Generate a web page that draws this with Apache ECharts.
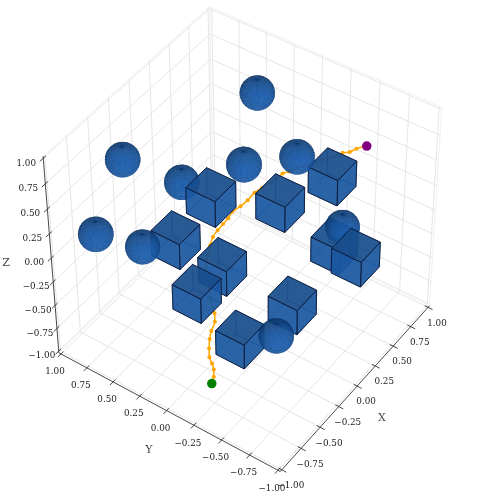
<!DOCTYPE html>
<html>
<head>
<meta charset="utf-8">
<style>
  html, body { margin: 0; background: #fff; }
  #main { width: 479px; height: 500px; }
</style>
</head>
<body>
<div id="main"></div>
<script src="https://cdn.jsdelivr.net/npm/echarts@6/dist/echarts.min.js"></script>
<script>
  // tick values and labels, same on all three axes
  var tickValues = [-1, -0.75, -0.5, -0.25, 0, 0.25, 0.5, 0.75, 1];
  var tickLabels = ['−1.00', '−0.75', '−0.50', '−0.25', '0.00', '0.25', '0.50', '0.75', '1.00'];

  // spheres (centres)
  var sphereX = [0.61, -0.37, -0.15, 0.09, 0.47, 0.74, -0.79, -0.46, -0.25];
  var sphereY = [0.30, 0.82, 0.45, 0.06, -0.15, -0.39, 0.77, 0.60, -0.46];
  var sphereZ = [0.8, 0.6, 0.4, 0.6, 0.5, -0.3, 0.2, -0.1, -0.6];
  var sphereRadius = 0.13;

  // cubes (centres)
  var cubeX = [-0.16, 0.34, 0.80, -0.26, -0.13, -0.39, 0.08, -0.28, 0.79, 0.52];
  var cubeY = [0.18, -0.09, -0.25, 0.44, 0.11, 0.16, -0.38, -0.15, -0.29, -0.65];
  var cubeZ = [0.4, 0.1, 0.1, -0.1, -0.3, -0.4, -0.6, -0.8, -0.6, -0.3];
  var cubeHalf = 0.13;

  // path from the green start to the purple end
  var pathX = [-0.84, -0.80, -0.77, -0.75, -0.74, -0.70, -0.65, -0.60, -0.54, -0.50, -0.44, -0.35, -0.25, -0.16, -0.10, -0.05, 0.00, 0.04, 0.08, 0.12, 0.17, 0.22, 0.28, 0.32, 0.36, 0.40, 0.43, 0.44, 0.47, 0.51, 0.57, 0.61, 0.65, 0.65, 0.66, 0.67];
  var pathY = [-0.29, -0.28, -0.26, -0.23, -0.20, -0.17, -0.14, -0.12, -0.11, -0.08, 0.00, 0.08, 0.17, 0.22, 0.24, 0.25, 0.24, 0.22, 0.20, 0.19, 0.15, 0.12, 0.10, 0.06, 0.02, -0.02, -0.05, -0.10, -0.15, -0.24, -0.30, -0.37, -0.43, -0.49, -0.54, -0.62];
  var pathZ = [-0.70, -0.67, -0.63, -0.60, -0.56, -0.52, -0.48, -0.45, -0.41, -0.37, -0.33, -0.29, -0.25, -0.21, -0.17, -0.13, -0.09, -0.05, -0.01, 0.03, 0.07, 0.11, 0.15, 0.19, 0.23, 0.27, 0.31, 0.35, 0.39, 0.43, 0.47, 0.51, 0.55, 0.59, 0.64, 0.70];

  // camera fitted to the axes of the picture, data -> page pixels
  var cam = [84.64185, -104.64677, -9.54316, 244.14220,
             -70.15094, -47.61323, -105.14564, 234.06048,
             0.03051, 0.02634, -0.03590];
  var toViewer = [-0.533, -0.359, 0.766];
  var light = [-0.667, -0.667, 0.333];
  var edge = 1.02; // panes run a bit past the +-1 ticks

  function project(p) {
    var w = cam[8] * p[0] + cam[9] * p[1] + cam[10] * p[2] + 1;
    return [
      (cam[0] * p[0] + cam[1] * p[1] + cam[2] * p[2] + cam[3]) / w,
      (cam[4] * p[0] + cam[5] * p[1] + cam[6] * p[2] + cam[7]) / w
    ];
  }
  function dot(a, b) { return a[0] * b[0] + a[1] * b[1] + a[2] * b[2]; }

  function shade(k, alpha) {
    return 'rgba(' + Math.round(32 * k) + ',' + Math.round(100 * k) + ',' + Math.round(182 * k) + ',' + alpha + ')';
  }
  function lightAmount(normal) {
    return 0.3 + 0.7 * (dot(normal, light) + 1) / 2;
  }

  // 3D segments: pane grid
  var gridSegs = [];
  tickValues.forEach(function (t) {
    gridSegs.push([edge, t, -edge, edge, t, edge]);
    gridSegs.push([edge, -edge, t, edge, edge, t]);
    gridSegs.push([t, edge, -edge, t, edge, edge]);
    gridSegs.push([-edge, edge, t, edge, edge, t]);
    gridSegs.push([t, -edge, -edge, t, edge, -edge]);
    gridSegs.push([-edge, t, -edge, edge, t, -edge]);
  });
  var paneSegs = [
    [edge, edge, -edge, edge, edge, edge],
    [edge, edge, edge, edge, -edge, edge],
    [edge, edge, edge, -edge, edge, edge],
    [edge, -edge, -edge, edge, -edge, edge],
    [edge, edge, -edge, edge, -edge, -edge],
    [edge, edge, -edge, -edge, edge, -edge]
  ];

  // axis lines and ticks
  var axisSegs = [
    [-edge, -edge, -edge, edge, -edge, -edge],
    [-edge, -edge, -edge, -edge, edge, -edge],
    [-edge, edge, -edge, -edge, edge, edge]
  ];
  tickValues.forEach(function (t) {
    axisSegs.push([t, -edge - 0.04, -edge, t, -edge + 0.03, -edge]);
    axisSegs.push([-edge - 0.04, t, -edge, -edge + 0.03, t, -edge]);
    axisSegs.push([-edge - 0.04, edge, t, -edge + 0.03, edge, t]);
  });

  // [x, y, z, text, dx, dy]
  var labelRows = [];
  tickValues.forEach(function (t, i) {
    labelRows.push([t, -edge, -edge, tickLabels[i], 9, 16]);
    labelRows.push([-edge, t, -edge, tickLabels[i], -6, 18]);
    labelRows.push([-edge, edge, t, tickLabels[i], -17, 5]);
  });
  var axisNames = [
    [382, 418, 'X'], [149, 450, 'Y'], [6, 263, 'Z']
  ];

  // spheres and cubes drawn far to near
  var solids = [];
  sphereX.forEach(function (x, i) { solids.push([x, sphereY[i], sphereZ[i], 0]); });
  cubeX.forEach(function (x, i) { solids.push([x, cubeY[i], cubeZ[i], 1]); });
  solids.sort(function (a, b) { return dot(a, toViewer) - dot(b, toViewer); });

  var pathPts = pathX.map(function (x, i) { return project([x, pathY[i], pathZ[i]]); });

  function segItem(color, width) {
    return function (params, api) {
      var a = api.coord(project([api.value(0), api.value(1), api.value(2)]));
      var b = api.coord(project([api.value(3), api.value(4), api.value(5)]));
      return {
        type: 'line',
        silent: true,
        shape: { x1: a[0], y1: a[1], x2: b[0], y2: b[1] },
        style: { stroke: color, lineWidth: width, fill: null }
      };
    };
  }

  function polyFrom(api, corners, fill, stroke, width) {
    return {
      type: 'polygon',
      silent: true,
      shape: { points: corners.map(function (p) { return api.coord(project(p)); }) },
      style: { fill: fill, stroke: stroke, lineWidth: width }
    };
  }

  function cubeChildren(api, c) {
    var h = cubeHalf, out = [];
    var faces = [
      { n: [0, 0, 1], f: function (a, b) { return [a, b, h]; } },
      { n: [0, 0, -1], f: function (a, b) { return [a, b, -h]; } },
      { n: [1, 0, 0], f: function (a, b) { return [h, a, b]; } },
      { n: [-1, 0, 0], f: function (a, b) { return [-h, a, b]; } },
      { n: [0, 1, 0], f: function (a, b) { return [a, h, b]; } },
      { n: [0, -1, 0], f: function (a, b) { return [a, -h, b]; } }
    ];
    // back faces first
    faces.sort(function (a, b) { return dot(a.n, toViewer) - dot(b.n, toViewer); });
    faces.forEach(function (face) {
      var pts = [[-h, -h], [h, -h], [h, h], [-h, h]].map(function (q) {
        var v = face.f(q[0], q[1]);
        return [c[0] + v[0], c[1] + v[1], c[2] + v[2]];
      });
      var front = dot(face.n, toViewer) > 0;
      if (front) {
        out.push(polyFrom(api, pts, shade(lightAmount(face.n), 0.84), 'rgba(14,30,62,0.95)', 1));
      } else {
        out.push(polyFrom(api, pts, shade(0.85, 0.6), 'rgba(14,40,90,0.5)', 0.8));
      }
    });
    return out;
  }

  function sphereChildren(api, c) {
    var back = [], front = [], nLat = 26, nLon = 44, r = sphereRadius;
    function pt(i, j) {
      var th = Math.PI * i / nLat, ph = 2 * Math.PI * j / nLon;
      return [Math.sin(th) * Math.cos(ph), Math.sin(th) * Math.sin(ph), Math.cos(th)];
    }
    for (var i = 0; i < nLat; i++) {
      for (var j = 0; j < nLon; j++) {
        var q = [pt(i, j), pt(i + 1, j), pt(i + 1, j + 1), pt(i, j + 1)];
        var n = pt(i + 0.5, j + 0.5);
        var facing = dot(n, toViewer);
        var k = lightAmount(n);
        var pts = q.map(function (v) { return [c[0] + r * v[0], c[1] + r * v[1], c[2] + r * v[2]]; });
        if (facing < 0) {
          // far side only closes the seams between the near quads
          back.push(polyFrom(api, pts, shade(0.85, 0.7), null, 0));
        } else {
          // mesh lines pile up near the rim, so fade them there
          front.push(polyFrom(api, pts, shade(k, 0.96), shade(k * 0.72, (0.08 + 0.3 * facing).toFixed(2)), 0.3));
        }
      }
    }
    return back.concat(front);
  }

  var myChart = echarts.init(document.getElementById('main'), null, { renderer: 'canvas' });
  myChart.setOption({
    animation: false,
    backgroundColor: '#fff',
    grid: { left: 0, right: 0, top: 0, bottom: 0 },
    xAxis: { type: 'value', min: 0, max: 479, show: false },
    yAxis: { type: 'value', min: 0, max: 500, inverse: true, show: false },
    series: [
      { type: 'custom', z: 1, clip: false, data: gridSegs, renderItem: segItem('#e6e6e6', 1) },
      { type: 'custom', z: 1, clip: false, data: paneSegs, renderItem: segItem('#f1f1f1', 1) },
      { type: 'custom', z: 2, clip: false, data: axisSegs, renderItem: segItem('#333333', 0.9) },
      {
        type: 'custom', z: 2, clip: false, data: labelRows,
        dimensions: ['x', 'y', 'z', { name: 'text', type: 'ordinal' }, 'dx', 'dy'],
        renderItem: function (params, api) {
          var row = labelRows[params.dataIndex];
          var a = api.coord(project(row));
          return {
            type: 'text', silent: true,
            style: {
              x: a[0] + row[4], y: a[1] + row[5], text: row[3],
              fontFamily: 'DejaVu Serif', fontSize: 8.8, fill: '#222',
              align: 'center', verticalAlign: 'middle'
            }
          };
        }
      },
      {
        type: 'scatter', z: 2, symbolSize: 0, silent: true,
        data: axisNames.map(function (n) { return { value: [n[0], n[1]], name: n[2] }; }),
        label: {
          show: true, position: 'inside', formatter: '{b}', color: '#111',
          fontFamily: 'DejaVu Serif', fontSize: 11
        }
      },
      {
        type: 'line', z: 3, data: pathPts, smooth: 0.25, silent: true,
        symbol: 'circle', symbolSize: 4, showSymbol: true, showAllSymbols: true,
        lineStyle: { color: '#ffa500', width: 1.5 },
        itemStyle: { color: '#ffa500' }
      },
      {
        type: 'custom', z: 4, clip: false, data: solids,
        renderItem: function (params, api) {
          var s = solids[params.dataIndex];
          return {
            type: 'group',
            children: s[3] === 1 ? cubeChildren(api, s) : sphereChildren(api, s)
          };
        }
      },
      {
        type: 'scatter', z: 5, symbol: 'circle', symbolSize: 9.5, silent: true,
        data: [pathPts[0]], itemStyle: { color: '#008000', opacity: 1 }
      },
      {
        type: 'scatter', z: 5, symbol: 'circle', symbolSize: 9.5, silent: true,
        data: [pathPts[pathPts.length - 1]], itemStyle: { color: '#800080', opacity: 1 }
      }
    ]
  });
</script>
</body>
</html>
